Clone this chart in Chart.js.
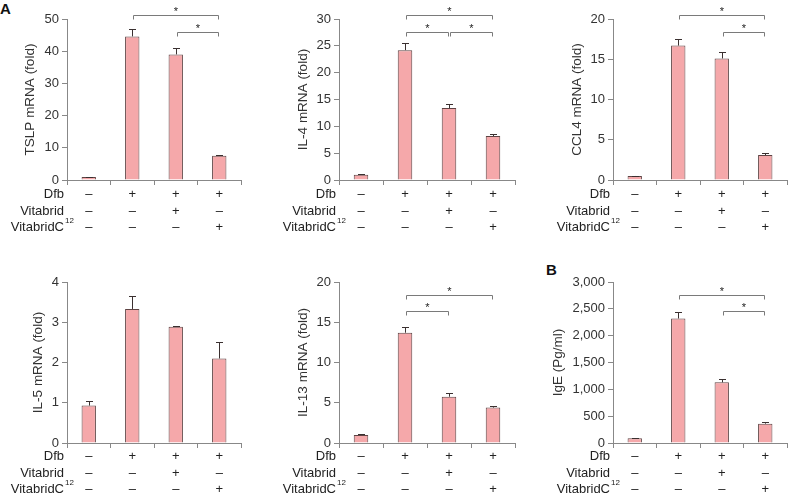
<!DOCTYPE html>
<html>
<head>
<meta charset="utf-8">
<script src="https://cdn.jsdelivr.net/npm/chart.js@4.4.1/dist/chart.umd.min.js"></script>
<style>
  body { margin:0; background:#fff; width:788px; height:495px; position:relative; overflow:hidden; }
  .panel { position:absolute; }
  .tag { position:absolute; font:bold 15px "Liberation Sans", Arial, sans-serif; color:#111; line-height:15px; }
</style>
</head>
<body>
<div class="tag" style="left:0px;top:1px">A</div>
<div class="tag" style="left:546px;top:262px">B</div>

<div class="panel" style="left:0px;top:0px"><canvas id="tslp" width="262" height="240"></canvas></div>
<div class="panel" style="left:262px;top:0px"><canvas id="il4" width="262" height="240"></canvas></div>
<div class="panel" style="left:528px;top:0px"><canvas id="ccl4" width="260" height="240"></canvas></div>
<div class="panel" style="left:0px;top:245px"><canvas id="il5" width="262" height="250"></canvas></div>
<div class="panel" style="left:262px;top:245px"><canvas id="il13" width="262" height="250"></canvas></div>
<div class="panel" style="left:528px;top:245px"><canvas id="ige" width="260" height="250"></canvas></div>

<script>
// treatment table under each panel
const groups = ["g1", "g2", "g3", "g4"];
const dfbRow = ["–", "+", "+", "+"];
const vitabridRow = ["–", "–", "+", "–"];
const vitabridCRow = ["–", "–", "–", "+"];

// means and SD (upper error bar only)
const tslpMean = [0.9, 44.6, 39.0, 7.5];
const tslpSd = [0.1, 2.2, 1.9, 0.3];
const il4Mean = [1.0, 24.2, 13.4, 8.2];
const il4Sd = [0.05, 1.4, 0.7, 0.4];
const ccl4Mean = [0.5, 16.7, 15.1, 3.1];
const ccl4Sd = [0.05, 0.85, 0.8, 0.2];
const il5Mean = [0.93, 3.33, 2.89, 2.1];
const il5Sd = [0.12, 0.33, 0.01, 0.4];
const il13Mean = [1.0, 13.7, 5.75, 4.4];
const il13Sd = [0.08, 0.75, 0.4, 0.2];
const igeMean = [90, 2320, 1130, 360];
const igeSd = [8, 130, 60, 30];

// significance brackets: [from group, to group, row]
const tslpSig = [[1, 3, 0], [2, 3, 1]];
const il4Sig = [[1, 3, 0], [1, 2, 1], [2, 3, 1]];
const ccl4Sig = [[1, 3, 0], [2, 3, 1]];
const il5Sig = [];
const il13Sig = [[1, 3, 0], [1, 2, 1]];
const igeSig = [[1, 3, 0], [2, 3, 1]];

const FONT = '"Liberation Sans", Arial, sans-serif';

const panels = [
  {id: "tslp", title: "TSLP mRNA (fold)", mean: tslpMean, sd: tslpSd, sig: tslpSig, max: 50, step: 10,
   area: [67, 241, 19, 180], div: [0, 0, 262, 240], titleX: 30, brackets: [-4, 12.5], rows: [14, 31, 47]},
  {id: "il4", title: "IL-4 mRNA (fold)", mean: il4Mean, sd: il4Sd, sig: il4Sig, max: 30, step: 5,
   area: [339, 515, 19, 180], div: [262, 0, 262, 240], titleX: 41, brackets: [-4, 12.5], rows: [14, 31, 47]},
  {id: "ccl4", title: "CCL4 mRNA (fold)", mean: ccl4Mean, sd: ccl4Sd, sig: ccl4Sig, max: 20, step: 5,
   area: [613, 787, 19, 180], div: [528, 0, 260, 240], titleX: 49, brackets: [-4, 12.5], rows: [14, 31, 47]},
  {id: "il5", title: "IL-5 mRNA (fold)", mean: il5Mean, sd: il5Sd, sig: il5Sig, max: 4, step: 1,
   area: [67, 241, 282, 443], div: [0, 245, 262, 250], titleX: 38, brackets: [12.5, 29], rows: [13, 30, 46]},
  {id: "il13", title: "IL-13 mRNA (fold)", mean: il13Mean, sd: il13Sd, sig: il13Sig, max: 20, step: 5,
   area: [339, 515, 282, 443], div: [262, 245, 262, 250], titleX: 41, brackets: [12.5, 29], rows: [13, 30, 46]},
  {id: "ige", title: "IgE (Pg/ml)", mean: igeMean, sd: igeSd, sig: igeSig, max: 3000, step: 500,
   area: [613, 787, 282, 443], div: [528, 245, 260, 250], titleX: 30, brackets: [12.5, 29], rows: [13, 30, 46]}
];

const extras = {
  id: "extras",
  afterDatasetsDraw(chart, args, opts) {
    const {ctx, chartArea, scales: {x, y}} = chart;
    const p = opts.panel;
    ctx.save();
    // error bars
    ctx.strokeStyle = "#3a3030";
    ctx.lineWidth = 1;
    p.mean.forEach((m, i) => {
      const cx = Math.round(x.getPixelForValue(i)) + 0.5;
      const y0 = y.getPixelForValue(m);
      const y1 = Math.round(y.getPixelForValue(m + p.sd[i])) + 0.5;
      ctx.beginPath();
      ctx.moveTo(cx, y0); ctx.lineTo(cx, y1);
      ctx.moveTo(cx - 3.5, y1); ctx.lineTo(cx + 3.5, y1);
      ctx.stroke();
    });
    // significance brackets
    ctx.strokeStyle = "#7a7a7a";
    ctx.fillStyle = "#222";
    ctx.font = "11px " + FONT;
    ctx.textAlign = "center";
    ctx.textBaseline = "alphabetic";
    p.sig.forEach(([a, b, lvl]) => {
      const xa = Math.round(x.getPixelForValue(a)) + 1.5;
      const xb = Math.round(x.getPixelForValue(b)) - 0.5;
      const ly = Math.round(chartArea.top + p.brackets[lvl]) + 0.5;
      ctx.beginPath();
      ctx.moveTo(xa, ly + 4); ctx.lineTo(xa, ly); ctx.lineTo(xb, ly); ctx.lineTo(xb, ly + 4);
      ctx.stroke();
      ctx.fillText("*", (xa + xb) / 2, ly - 1);
    });
    ctx.restore();
  },
  afterDraw(chart, args, opts) {
    const {ctx, chartArea, scales: {x}} = chart;
    const p = opts.panel;
    const rows = [["Dfb", dfbRow, ""], ["Vitabrid", vitabridRow, ""], ["VitabridC", vitabridCRow, "12"]];
    ctx.save();
    ctx.fillStyle = "#222";
    ctx.textBaseline = "middle";
    rows.forEach(([label, marks, sup], r) => {
      const ty = chartArea.bottom + p.rows[r];
      ctx.font = "13px " + FONT;
      ctx.textAlign = "right";
      ctx.fillText(label, chartArea.left - 3, ty);
      ctx.textAlign = "center";
      marks.forEach((m, i) => ctx.fillText(m, x.getPixelForValue(i), ty));
      if (sup) {
        ctx.font = "8px " + FONT;
        ctx.textAlign = "left";
        ctx.fillText(sup, chartArea.left - 2, ty - 6);
      }
    });
    ctx.restore();
  }
};

panels.forEach((p) => {
  const [aL, aR, aT, aB] = p.area;
  const [dL, dT, dW, dH] = p.div;
  new Chart(document.getElementById(p.id), {
    type: "bar",
    data: {
      labels: groups,
      datasets: [{
        data: p.mean,
        backgroundColor: "#f5a8aa",
        borderColor: "#5e4444",
        borderWidth: 1,
        barPercentage: 0.33,
        categoryPercentage: 1
      }]
    },
    options: {
      responsive: false,
      animation: false,
      layout: {padding: {left: 0, top: aT - dT, right: dL + dW - aR, bottom: 0}},
      plugins: {legend: {display: false}, tooltip: {enabled: false}, extras: {panel: p}},
      scales: {
        x: {
          ticks: {display: false},
          grid: {offset: true, drawOnChartArea: false, drawTicks: true, tickLength: 5, color: "#888"},
          border: {color: "#888"},
          afterFit: (s) => { s.height = dT + dH - aB; }
        },
        y: {
          min: 0,
          max: p.max,
          ticks: {
            stepSize: p.step,
            color: "#333",
            padding: 3,
            font: {family: FONT, size: 13},
            callback: (v) => v.toLocaleString("en-US")
          },
          grid: {drawOnChartArea: false, drawTicks: true, tickLength: 5, color: "#888"},
          border: {color: "#888"},
          title: {
            display: true,
            text: p.title,
            color: "#333",
            font: {family: FONT, size: 13.5, lineHeight: 1.2},
            padding: {top: p.titleX - 8.1, bottom: 0}
          },
          afterFit: (s) => { s.width = aL - dL; }
        }
      }
    },
    plugins: [extras]
  });
});
</script>
</body>
</html>
